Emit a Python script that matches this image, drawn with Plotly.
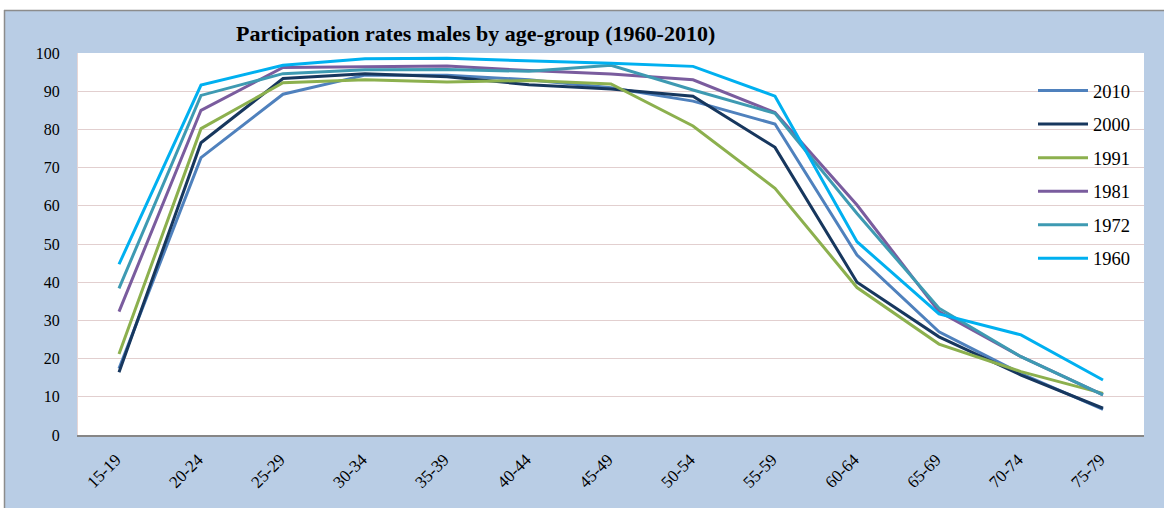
import plotly.graph_objects as go

age_groups = ["15-19", "20-24", "25-29", "30-34", "35-39", "40-44", "45-49",
              "50-54", "55-59", "60-64", "65-69", "70-74", "75-79"]

y2010 = [17.4, 72.6, 89.2, 94.2, 94.2, 93.0, 90.9, 87.4, 81.4, 47.1, 27.0, 16.1, 6.7]
y2000 = [16.4, 76.5, 93.3, 94.6, 93.8, 91.7, 90.6, 88.7, 75.3, 40.0, 25.7, 15.7, 7.0]
y1991 = [21.2, 80.2, 92.2, 93.0, 92.4, 92.8, 91.9, 80.9, 64.6, 38.6, 23.8, 16.6, 10.9]
y1981 = [32.3, 85.0, 96.2, 96.3, 96.6, 95.4, 94.5, 93.0, 84.4, 60.2, 32.3, 20.5, 10.5]
y1972 = [38.4, 88.9, 94.6, 95.6, 95.7, 95.2, 96.8, 90.3, 84.2, 58.0, 33.2, 20.5, 10.5]
y1960 = [44.7, 91.6, 96.8, 98.5, 98.6, 98.0, 97.3, 96.5, 88.7, 50.6, 31.7, 26.2, 14.4]

series_names = ["2010", "2000", "1991", "1981", "1972", "1960"]
series_values = [y2010, y2000, y1991, y1981, y1972, y1960]
series_colors = ["#4F81BD", "#17375E", "#8CB04E", "#7A5C9E", "#3E9AB2", "#00B0F0"]

W, H = 1164, 508
ML, MR, MT, MB = 78, 20, 53, 73
PW, PH = W - ML - MR, H - MT - MB

def px_x(p):
    return (p - ML) / PW

def px_y(p):
    return 1 - (p - MT) / PH

FONT = "Liberation Serif"

fig = go.Figure()
for name, vals, col in zip(series_names, series_values, series_colors):
    fig.add_trace(go.Scatter(
        x=age_groups, y=vals, name=name, mode="lines",
        line=dict(color=col, width=3), legendgroup=name,
    ))

fig.update_layout(
    width=W, height=H,
    margin=dict(l=ML, r=MR, t=MT, b=MB, pad=0),
    paper_bgcolor="#B9CDE5",
    plot_bgcolor="white",
    font=dict(family=FONT, color="black", size=16),
    showlegend=True,
    legend=dict(
        x=px_x(1033), y=px_y(72), xanchor="left", yanchor="top",
        bgcolor="rgba(0,0,0,0)", font=dict(family=FONT, size=18.5, color="black"),
        tracegroupgap=6.5, itemwidth=50,
    ),
    xaxis=dict(
        type="category", range=[-0.5, 12.5], tickangle=-45,
        showgrid=False, showline=True, linecolor="#868686", linewidth=2,
        ticks="", ticklabelstandoff=6, ticklabelshift=-3,
        tickfont=dict(family=FONT, size=17, color="black"),
        zeroline=False, fixedrange=True,
    ),
    yaxis=dict(
        range=[0, 100], dtick=10, tick0=0,
        showgrid=True, gridcolor="#E2CFCF", gridwidth=1,
        showline=True, linecolor="#E6D6D6", linewidth=1,
        ticks="", ticklabelstandoff=14,
        tickfont=dict(family=FONT, size=16, color="black"),
        zeroline=False, fixedrange=True,
    ),
    annotations=[dict(
        text="<b>Participation rates males by age-group (1960-2010)</b>",
        xref="paper", yref="paper", x=px_x(475), y=px_y(33),
        xanchor="center", yanchor="middle", showarrow=False,
        font=dict(family=FONT, size=22, color="black"),
    )],
    shapes=[
        dict(type="rect", xref="paper", yref="paper", layer="above",
             x0=px_x(-10), x1=px_x(W + 10), y0=px_y(10), y1=px_y(-10),
             fillcolor="white", line=dict(width=0)),
        dict(type="rect", xref="paper", yref="paper", layer="above",
             x0=px_x(-10), x1=px_x(4), y0=px_y(H + 10), y1=px_y(-10),
             fillcolor="white", line=dict(width=0)),
        dict(type="line", xref="paper", yref="paper", layer="above",
             x0=px_x(4), x1=px_x(W + 10), y0=px_y(10.5), y1=px_y(10.5),
             line=dict(color="#8C8C8C", width=1.5)),
        dict(type="line", xref="paper", yref="paper", layer="above",
             x0=px_x(4.5), x1=px_x(4.5), y0=px_y(10), y1=px_y(H + 10),
             line=dict(color="#8C8C8C", width=1.5)),
    ],
)

fig.write_html(
    "out.html",
    config={"displayModeBar": False, "staticPlot": True},
    post_script="document.body.style.margin='0';document.body.style.overflow='hidden';",
)
